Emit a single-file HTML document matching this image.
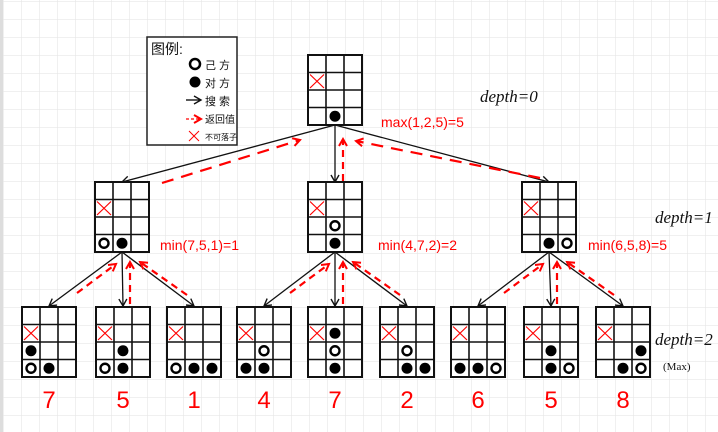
<!DOCTYPE html>
<html><head><meta charset="utf-8"><style>
html,body{margin:0;padding:0;background:#fff;}
svg{display:block;font-family:"Liberation Sans","Noto Sans CJK SC",sans-serif;}
</style></head><body>
<svg id="c" width="718" height="432" viewBox="0 0 718 432" xmlns="http://www.w3.org/2000/svg">
<defs>
<pattern id="grid" x="3" y="1" width="18" height="18" patternUnits="userSpaceOnUse">
<path d="M0 0H18M0 0V18" stroke="#e6e6e6" stroke-width="1.2" fill="none"/>
</pattern>
<marker id="ab" markerWidth="10" markerHeight="10" refX="8" refY="5" orient="auto" markerUnits="userSpaceOnUse"><path d="M1 1L8 5L1 9" fill="none" stroke="#111" stroke-width="1.4"/></marker>
<marker id="ar" markerWidth="10" markerHeight="10" refX="8" refY="5" orient="auto" markerUnits="userSpaceOnUse"><path d="M1 1L8 5L1 9" fill="none" stroke="#f00" stroke-width="2"/></marker>
</defs>
<rect width="718" height="432" fill="url(#grid)"/>
<rect x="0" y="0" width="3" height="432" fill="#ddd"/>
<g id="edges"></g>
<g id="boards"></g>
<g>
<rect x="147" y="37" width="90" height="108" fill="#fff" stroke="#222" stroke-width="1.5"/>
<text x="151" y="54" font-size="14" fill="#111">图例:</text>
<circle cx="195" cy="64" r="5" fill="none" stroke="#000" stroke-width="2.5"/>
<text x="205" y="69" font-size="11" fill="#111">己 方</text>
<circle cx="195" cy="82" r="5.5" fill="#000"/>
<text x="205" y="87" font-size="11" fill="#111">对 方</text>
<line x1="186" y1="100" x2="201" y2="100" stroke="#000" stroke-width="1.3" marker-end="url(#ab)"/>
<text x="205" y="105" font-size="11" fill="#111">搜 索</text>
<line x1="186" y1="119" x2="201" y2="119" stroke="#f00" stroke-width="1.3" stroke-dasharray="3 2" marker-end="url(#ar)"/>
<text x="205" y="123" font-size="10" fill="#111">返回值</text>
<path d="M189 131L199 141M199 131L189 141" stroke="#f00" stroke-width="1"/>
<text x="205" y="140" font-size="8" fill="#111">不可落子</text>
</g>
<g font-size="17" fill="#111" font-style="italic" font-family="Liberation Serif,serif">
<text x="480" y="102">depth=0</text>
<text x="655" y="223">depth=1</text>
<text x="655" y="345">depth=2</text>
<text x="663" y="370" font-size="11" font-style="normal">(Max)</text>
</g>
<g font-size="14" fill="#f00">
<text x="381" y="127">max(1,2,5)=5</text>
<text x="160" y="250">min(7,5,1)=1</text>
<text x="378" y="250">min(4,7,2)=2</text>
<text x="588" y="250">min(6,5,8)=5</text>
</g>
<g id="vals" font-size="24" fill="#f00" text-anchor="middle" font-weight="300"></g>
</svg>
<script>
const leafValues = [7,5,1,4,7,2,6,5,8];
// pieces: [row,col,type] type b=black w=white
const rootPieces = [[3,1,'b']];
const midPieces = [
 [[3,0,'w'],[3,1,'b']],
 [[2,1,'w'],[3,1,'b']],
 [[3,1,'b'],[3,2,'w']]
];
const leafPieces = [
 [[2,0,'b'],[3,0,'w'],[3,1,'b']],
 [[2,1,'b'],[3,0,'w'],[3,1,'b']],
 [[3,0,'w'],[3,1,'b'],[3,2,'b']],
 [[2,1,'w'],[3,0,'b'],[3,1,'b']],
 [[1,1,'b'],[2,1,'w'],[3,1,'b']],
 [[2,1,'w'],[3,1,'b'],[3,2,'b']],
 [[3,0,'b'],[3,1,'b'],[3,2,'w']],
 [[2,1,'b'],[3,1,'b'],[3,2,'w']],
 [[2,2,'b'],[3,1,'b'],[3,2,'w']]
];
const NS='http://www.w3.org/2000/svg';
const svgB=document.getElementById('boards'), svgE=document.getElementById('edges'), svgV=document.getElementById('vals');
function mk(tag,attrs,parent){const e=document.createElementNS(NS,tag);for(const k in attrs)e.setAttribute(k,attrs[k]);parent.appendChild(e);return e;}
const CW=18, CH=17.5;
function board(x,y,pieces,name){
 const g=mk('g',{},svgB);
 
 
 mk('rect',{x:x,y:y,width:3*CW,height:4*CH,fill:'#fff',stroke:'#111','stroke-width':2},g);
 for(let i=1;i<3;i++)mk('line',{x1:x+i*CW,y1:y,x2:x+i*CW,y2:y+4*CH,stroke:'#111','stroke-width':1.6},g);
 for(let j=1;j<4;j++)mk('line',{x1:x,y1:y+j*CH,x2:x+3*CW,y2:y+j*CH,stroke:'#111','stroke-width':1.6},g);
 mk('path',{d:`M${x+2} ${y+CH+2}L${x+CW-2} ${y+2*CH-2}M${x+CW-2} ${y+CH+2}L${x+2} ${y+2*CH-2}`,stroke:'#f00','stroke-width':1.2,fill:'none'},g);
 pieces.forEach(p=>{
  const cx=x+p[1]*CW+CW/2, cy=y+p[0]*CH+CH/2;
  if(p[2]==='b')mk('circle',{cx:cx,cy:cy,r:5.5,fill:'#000'},g);
  else mk('circle',{cx:cx,cy:cy,r:4.5,fill:'none',stroke:'#000','stroke-width':2.4},g);
 });
}
function edge(x1,y1,x2,y2,red,name,dash){
 const l=mk('line',{x1:x1,y1:y1,x2:x2,y2:y2,stroke:red?'#f00':'#111','stroke-width':red?2.2:1.3,'marker-end':red?'url(#ar)':'url(#ab)'},svgE);
 if(red)l.setAttribute('stroke-dasharray',dash||'7 5');
 
 
}
const rootX=308, rootY=55, midY=182, leafY=307;
const midX=[95,308,522];
const leafX=[22,96,167,237,308,380,451,524,596];
board(rootX,rootY,rootPieces,'root-board');
midX.forEach((x,i)=>board(x,midY,midPieces[i],'depth1-board-'+(i+1)));
leafX.forEach((x,i)=>board(x,leafY,leafPieces[i],'leaf-board-'+(i+1)));
const rb={x:rootX+27,y:rootY+70};
midX.forEach((x,i)=>{
 edge(rb.x,rb.y,x+27,midY,false,'search-arrow-root-'+(i+1));
});
edge(162,183,300,140,true,'return-arrow-root-1','12 8');
edge(343,181,343,139,true,'return-arrow-root-2');
edge(540,178,356,141,true,'return-arrow-root-3','12 8');
midX.forEach((mx,i)=>{
 const px=mx+27, py=midY+70;
 for(let k=0;k<3;k++){
  const lx=leafX[i*3+k]+27;
  edge(px,py,lx,leafY-1,false,'search-arrow-'+(i+1)+'-'+(k+1));
 }
 edge(px-45,leafY-14,px-6,py+12,true,'return-arrow-'+(i+1)+'-1');
 edge(px+8,leafY-3,px+8,py+10,true,'return-arrow-'+(i+1)+'-2');
 edge(px+65,leafY-12,px+18,py+10,true,'return-arrow-'+(i+1)+'-3');
});
leafValues.forEach((v,i)=>{
 const t=mk('text',{x:leafX[i]+27,y:408},svgV);
 t.textContent=v;
 
 
});
</script>
</body></html>
